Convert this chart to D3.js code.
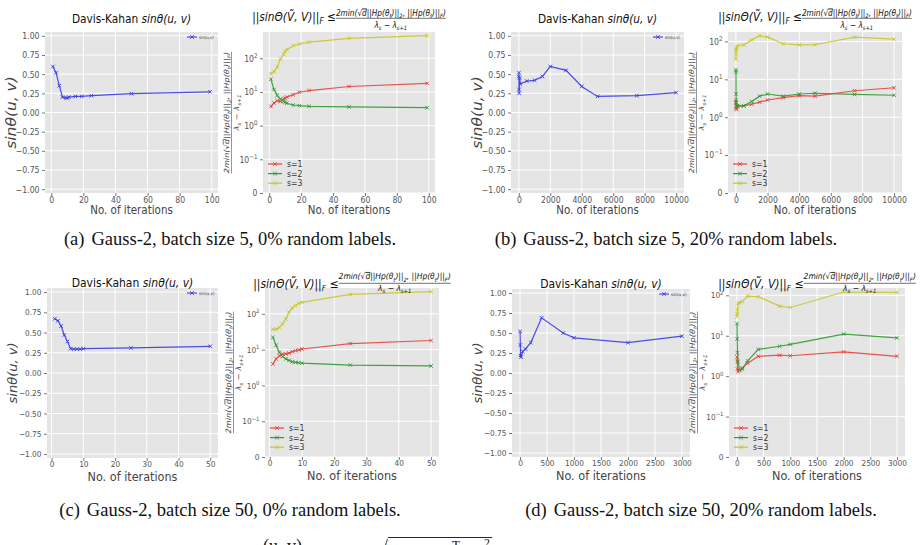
<!DOCTYPE html>
<html>
<head>
<meta charset="utf-8">
<title>Davis-Kahan sin theta, Gauss-2</title>
<script src="https://cdn.jsdelivr.net/npm/d3@7"></script>
<style>
  body { margin: 0; background: #fff; }
  svg { display: block; }
</style>
</head>
<body>
<div id="figure"></div>
<script>
// values

// (a) batch size 5, 0% random labels
const iterA = [1, 3, 5, 7, 9, 10, 11, 15, 19, 25, 50, 99]
const sinA = [0.60, 0.52, 0.35, 0.20, 0.19, 0.19, 0.20, 0.21, 0.21, 0.22, 0.245, 0.27]
const s1A = [3.7, 4.7, 5.5, 5.2, 6.2, 6.6, 7.0, 8.3, 9.8, 11, 14.5, 18]
const s2A = [24, 11.7, 7.9, 6.1, 5.2, 4.9, 4.6, 4.1, 3.9, 3.75, 3.6, 3.4]
const s3A = [35, 40, 55, 95, 130, 160, 180, 235, 265, 300, 390, 470]
const xTicksA = [0, 20, 40, 60, 80, 100]

// (b) batch size 5, 20% random labels
const iterB = [1, 5, 10, 20, 50, 100, 500, 1000, 1500, 2000, 3000, 4000, 5000, 7500, 10000]
const sinB = [0.47, 0.52, 0.30, 0.25, 0.45, 0.37, 0.41, 0.42, 0.47, 0.60, 0.55, 0.34, 0.21, 0.22, 0.26]
const s1B = [2.8, 2.5, 1.7, 1.9, 1.6, 2.0, 2.0, 2.2, 2.5, 2.85, 3.3, 3.7, 3.6, 5.0, 6.0]
const s2B = [18, 15.7, 4.1, 2.4, 2.0, 2.0, 2.0, 2.6, 3.6, 4.1, 3.6, 4.1, 4.3, 4.0, 3.8]
const s3B = [34, 45, 57, 62, 70, 77, 81, 110, 142, 130, 87, 81, 82, 130, 115]
const xTicksB = [0, 2000, 4000, 6000, 8000, 10000]

// (c) batch size 50, 0% random labels
const iterC = [1, 2, 3, 4, 5, 6, 7, 8, 9, 10, 25, 50]
const sinC = [0.67, 0.645, 0.58, 0.47, 0.39, 0.30, 0.295, 0.295, 0.295, 0.30, 0.31, 0.33]
const s1C = [4.0, 5.5, 6.7, 7.5, 7.6, 8.0, 8.8, 9.4, 9.8, 10.4, 14.8, 18]
const s2C = [22, 13.3, 8.4, 6.4, 5.5, 5.0, 4.6, 4.4, 4.3, 4.2, 3.7, 3.5]
const s3C = [37, 37, 41, 52, 72, 112, 145, 170, 195, 210, 350, 415]
const xTicksC = [0, 10, 20, 30, 40, 50]

// (d) batch size 50, 20% random labels
const iterD = [1, 5, 10, 20, 50, 100, 200, 400, 800, 1000, 2000, 3000]
const sinD = [0.52, 0.35, 0.22, 0.20, 0.27, 0.30, 0.38, 0.69, 0.50, 0.44, 0.38, 0.46]
const s1D = [3.0, 2.3, 1.5, 1.3, 1.4, 1.6, 2.1, 3.1, 3.3, 3.2, 4.0, 3.1]
const s2D = [20, 8.4, 3.8, 2.3, 1.4, 1.5, 2.4, 4.6, 5.5, 6.1, 11, 8.9]
const s3D = [30, 35, 45, 63, 66, 70, 96, 93, 54, 50, 121, 118]
const xTicksD = [0, 500, 1000, 1500, 2000, 2500, 3000]

const sinTicks = [-1, -0.75, -0.5, -0.25, 0, 0.25, 0.5, 0.75, 1]
const boundTicks = [0, 0.1, 1, 10, 100]
const boundTickExp = [null, '−1', '0', '1', '2']
const seriesNames = ['s=1', 's=2', 's=3']
const captions = [
  ['(a)', 'Gauss-2, batch size 5, 0% random labels.'],
  ['(b)', 'Gauss-2, batch size 5, 20% random labels.'],
  ['(c)', 'Gauss-2, batch size 50, 0% random labels.'],
  ['(d)', 'Gauss-2, batch size 50, 20% random labels.']
]

// math bits of the titles / labels
const sinTitle = ['Davis-Kahan ', ['sinθ(u, v)', 'it']]
const sinYLabel = 'sinθ(u, v)'
const boundMain = ['||sinΘ(Ṽ, V)||', ['F', 'sub'], ' ≤ ']
const boundNum = ['2min(√', ['d', 'ol'], '||Hp(θ', ['t', 'sub'], ')||', ['2', 'sub'], ', ||Hp(θ', ['t', 'sub'], ')||', ['F', 'sub'], ')']
const boundDen = ['λ', ['s', 'sub'], ' − λ', ['s+1', 'sub']]

const W = 923, H = 545
const svg = d3.select('#figure').append('svg')
  .attr('width', W).attr('height', H)
  .style('font-family', '"DejaVu Sans", sans-serif')

const blue = '#3a3ae8'
const colors = ['#e8413c', '#2f9a2f', '#c6c62a']

// matplotlib symlog, linthresh 0.1, one decade for the linear part
const LT = 0.1
const slog = v => v <= LT ? v / LT : 1 + Math.log10(v / LT)

const topRow = { sx: 0.86, title: 12.3, xlab: 12, ylab: 15.5, tick: 9, num: 8.6, lab: 8.2, leg: 9, pad: 0.5,
  titleY: -9.5, xlabY: 21, ylabX: -28.6, mainY: -11, numY: -16, barY: -13.7, denY: -4.4 }
const botRow = { sx: 0.9, title: 12, xlab: 12.5, ylab: 13, tick: 8.2, num: 8.4, lab: 8.2, leg: 8.6, pad: 0,
  titleY: -1, xlabY: 23, ylabX: -30, mainY: -0.5, numY: -8.7, barY: -4.7, denY: 3 }

function rich(t, parts, size) {
  if (typeof parts === 'string') { t.text(parts); return }
  let off = 0
  parts.forEach(p => {
    const [s, m] = Array.isArray(p) ? p : [p, null]
    const target = m === 'sub' ? size * 0.28 : m === 'sup' ? -size * 0.4 : 0
    const ts = t.append('tspan').text(s).attr('dy', target - off)
    off = target
    if (m === 'sub' || m === 'sup') ts.attr('font-size', size * 0.7)
    if (m === 'ol') ts.style('text-decoration', 'overline')
    if (m === 'it') ts.attr('font-style', 'italic')
  })
}

function addText(g, x, y, sx, size, parts, opt = {}) {
  const t = g.append('text')
    .attr('transform', `translate(${x},${y}) scale(${sx},1)` + (opt.rot ? ' rotate(-90)' : ''))
    .attr('font-size', size)
    .attr('text-anchor', opt.anchor || 'middle')
    .attr('fill', opt.fill || '#222')
  if (opt.italic) t.attr('font-style', 'italic')
  rich(t, parts, size)
  return t
}

function xScale(iters, x0, x1) {
  const ext = d3.extent(iters), pad = (ext[1] - ext[0]) * 0.05
  return d3.scaleLinear().domain([ext[0] - pad, ext[1] + pad]).range([x0, x1])
}

function frame(g, x, y, xTicks, yTicks, L) {
  const [x0, x1, y0, y1] = L
  g.append('rect').attr('x', x0).attr('y', y0).attr('width', x1 - x0).attr('height', y1 - y0)
    .attr('fill', '#e5e5e5')
  g.append('g').selectAll('line').data(xTicks).join('line')
    .attr('x1', d => x(d)).attr('x2', d => x(d)).attr('y1', y0).attr('y2', y1)
    .attr('stroke', '#fff').attr('stroke-width', 1)
  g.append('g').selectAll('line').data(yTicks).join('line')
    .attr('x1', x0).attr('x2', x1).attr('y1', d => y(d)).attr('y2', d => y(d))
    .attr('stroke', '#fff').attr('stroke-width', 1)
}

function styleAxis(ax, st, side) {
  ax.attr('font-family', null).attr('font-size', st.tick)
  ax.select('.domain').remove()
  ax.selectAll('.tick line').attr('stroke', '#555').attr('stroke-width', 0.8)
  const t = ax.selectAll('.tick text').attr('fill', '#555').attr('transform', `scale(${st.sx},1)`)
  if (side === 'left') t.attr('x', -5.5 / st.sx)
  return t
}

function cross(g, px, py, color) {
  g.append('path').attr('d', `M${px - 1.8},${py - 1.8}L${px + 1.8},${py + 1.8}M${px - 1.8},${py + 1.8}L${px + 1.8},${py - 1.8}`)
    .attr('stroke', color).attr('stroke-width', 0.9).attr('fill', 'none')
}

function drawSeries(g, iters, vals, x, yv, color) {
  const line = d3.line().x((d, i) => x(iters[i])).y(d => yv(d))
  g.append('path').datum(vals).attr('d', line)
    .attr('fill', 'none').attr('stroke', color).attr('stroke-width', 1.2).attr('stroke-opacity', 0.9)
  vals.forEach((v, i) => cross(g, x(iters[i]), yv(v), color))
}

function drawSin(L, st, iters, vals, xTicks) {
  const [x0, x1, y0, y1] = L
  const g = svg.append('g')
  const x = xScale(iters, x0, x1)
  const y = d3.scaleLinear().domain([-1.05, 1.05]).range([y1, y0])
  frame(g, x, y, xTicks, sinTicks, L)

  const ay = g.append('g').attr('transform', `translate(${x0},0)`)
    .call(d3.axisLeft(y).tickValues(sinTicks).tickFormat(d3.format('.2f')).tickSize(3))
  styleAxis(ay, st, 'left')
  const ax = g.append('g').attr('transform', `translate(0,${y1})`)
    .call(d3.axisBottom(x).tickValues(xTicks).tickFormat(d3.format('d')).tickSize(3).tickPadding(st.pad))
  styleAxis(ax, st, 'bottom')

  drawSeries(g, iters, vals, x, y, blue)

  // tiny legend, upper right
  const ly = y0 + 5
  g.append('line').attr('x1', x1 - 31).attr('x2', x1 - 21).attr('y1', ly).attr('y2', ly)
    .attr('stroke', blue).attr('stroke-width', 1.1)
  cross(g, x1 - 26, ly, blue)
  addText(g, x1 - 19, ly + 1.5, st.sx, 4.6, 'sin(u,v)', { anchor: 'start', fill: '#333' })

  addText(g, (x0 + x1) / 2, y0 + st.titleY, st.sx, st.title, sinTitle, { fill: '#111' })
  addText(g, (x0 + x1) / 2, y1 + st.xlabY, st.sx, st.xlab, 'No. of iterations', { fill: '#444' })
  addText(g, x0 + st.ylabX, (y0 + y1) / 2, st.sx, st.ylab, sinYLabel, { rot: true, italic: true, fill: '#444' })
}

function drawBound(L, st, iters, series, xTicks) {
  const [x0, x1, y0, y1] = L
  const g = svg.append('g')
  const x = xScale(iters, x0, x1)
  const all = series.flat().map(slog)
  const lo = d3.min(all), hi = d3.max(all)
  const y = d3.scaleLinear().domain([0, hi + 0.05 * (hi - lo)]).range([y1, y0])
  const yTicks = boundTicks.map(slog)
  frame(g, x, y, xTicks, yTicks, L)

  const ay = g.append('g').attr('transform', `translate(${x0},0)`)
    .call(d3.axisLeft(y).tickValues(yTicks).tickFormat(() => '').tickSize(3))
  styleAxis(ay, st, 'left').each(function (d, i) {
    const t = d3.select(this)
    if (boundTickExp[i] === null) { t.text('0'); return }
    t.append('tspan').text('10')
    t.append('tspan').attr('dy', -st.tick * 0.45).attr('font-size', st.tick * 0.72).text(boundTickExp[i])
  })
  const ax = g.append('g').attr('transform', `translate(0,${y1})`)
    .call(d3.axisBottom(x).tickValues(xTicks).tickFormat(d3.format('d')).tickSize(3).tickPadding(st.pad))
  styleAxis(ax, st, 'bottom')

  series.forEach((vals, k) => drawSeries(g, iters, vals, x, v => y(slog(v)), colors[k]))

  // legend, lower left
  seriesNames.forEach((name, k) => {
    const ly = y1 - 29 + 9.6 * k
    g.append('line').attr('x1', x0 + 5).attr('x2', x0 + 19).attr('y1', ly).attr('y2', ly)
      .attr('stroke', colors[k]).attr('stroke-width', 1.2)
    cross(g, x0 + 12, ly, colors[k])
    addText(g, x0 + 24, ly + 3, st.sx, st.leg, name, { anchor: 'start', fill: '#333' })
  })

  // title: main part followed by a fraction
  const tg = g.append('g').attr('fill', '#111')
  const main = tg.append('text').attr('font-size', st.title).attr('font-style', 'italic')
  rich(main, boundMain, st.title)
  const num = tg.append('text').attr('font-size', st.num).attr('font-style', 'italic').attr('text-anchor', 'middle')
  rich(num, boundNum, st.num)
  const den = tg.append('text').attr('font-size', st.num).attr('font-style', 'italic').attr('text-anchor', 'middle')
  rich(den, boundDen, st.num)
  const wm = main.node().getComputedTextLength() * st.sx
  const wn = num.node().getComputedTextLength() * st.sx
  const left = (x0 + x1) / 2 - (wm + wn) / 2
  const fc = left + wm + wn / 2
  main.attr('transform', `translate(${left},${y0 + st.mainY}) scale(${st.sx},1)`)
  num.attr('transform', `translate(${fc},${y0 + st.numY}) scale(${st.sx},1)`)
  den.attr('transform', `translate(${fc},${y0 + st.denY}) scale(${st.sx},1)`)
  tg.append('line').attr('x1', fc - wn / 2).attr('x2', fc + wn / 2)
    .attr('y1', y0 + st.barY).attr('y2', y0 + st.barY).attr('stroke', '#111').attr('stroke-width', 0.6)

  // rotated fraction as y label
  const lg = g.append('g').attr('fill', '#444')
    .attr('transform', `translate(${x0 - 31.5},${(y0 + y1) / 2}) scale(${st.sx},1) rotate(-90)`)
  const ln = lg.append('text').attr('font-size', st.lab).attr('font-style', 'italic')
    .attr('text-anchor', 'middle').attr('y', -2.6)
  rich(ln, boundNum, st.lab)
  const ld = lg.append('text').attr('font-size', st.lab).attr('font-style', 'italic')
    .attr('text-anchor', 'middle').attr('y', st.lab * 1.05)
  rich(ld, boundDen, st.lab)
  const wl = ln.node().getComputedTextLength()
  lg.append('line').attr('x1', -wl / 2).attr('x2', wl / 2).attr('y1', 0).attr('y2', 0)
    .attr('stroke', '#444').attr('stroke-width', 0.6)

  addText(g, (x0 + x1) / 2, y1 + st.xlabY, st.sx, st.xlab, 'No. of iterations', { fill: '#444' })
}

function caption(cx, y, c) {
  const t = svg.append('text').attr('x', cx).attr('y', y).attr('text-anchor', 'middle')
    .attr('font-family', '"Liberation Serif", "Times New Roman", serif').attr('font-size', 18.5).attr('fill', '#111')
  t.append('tspan').text(c[0])
  t.append('tspan').attr('dx', 7).text(c[1])
}

// (a)
drawSin([45, 218, 32, 193], topRow, iterA, sinA, xTicksA)
drawBound([263, 435, 32, 193], topRow, iterA, [s1A, s2A, s3A], xTicksA)
// (b)
drawSin([511, 684, 32, 193], topRow, iterB, sinB, xTicksB)
drawBound([728, 902, 32, 193], topRow, iterB, [s1B, s2B, s3B], xTicksB)
// (c)
drawSin([47, 218, 288, 458], botRow, iterC, sinC, xTicksC)
drawBound([265, 439, 288, 457], botRow, iterC, [s1C, s2C, s3C], xTicksC)
// (d)
drawSin([512, 690, 289, 457], botRow, iterD, sinD, xTicksD)
drawBound([729, 905, 288, 457], botRow, iterD, [s1D, s2D, s3D], xTicksD)

caption(230, 245, captions[0])
caption(666, 245, captions[1])
caption(230, 516, captions[2])
caption(701, 516, captions[3])

// first line of the next equation, cut by the page edge
const cut = svg.append('g').attr('font-family', '"Liberation Serif", serif').attr('font-size', 18).attr('fill', '#111')
cut.append('text').attr('x', 263).attr('y', 552).text('(u, v)')
cut.append('text').attr('x', 378).attr('y', 553).text('√')
cut.append('line').attr('x1', 388).attr('x2', 492).attr('y1', 537.5).attr('y2', 537.5).attr('stroke', '#111').attr('stroke-width', 0.9)
cut.append('text').attr('x', 452).attr('y', 549).attr('font-size', 13).text('T')
cut.append('text').attr('x', 484).attr('y', 547).attr('font-size', 12).text('2')
</script>
</body>
</html>
